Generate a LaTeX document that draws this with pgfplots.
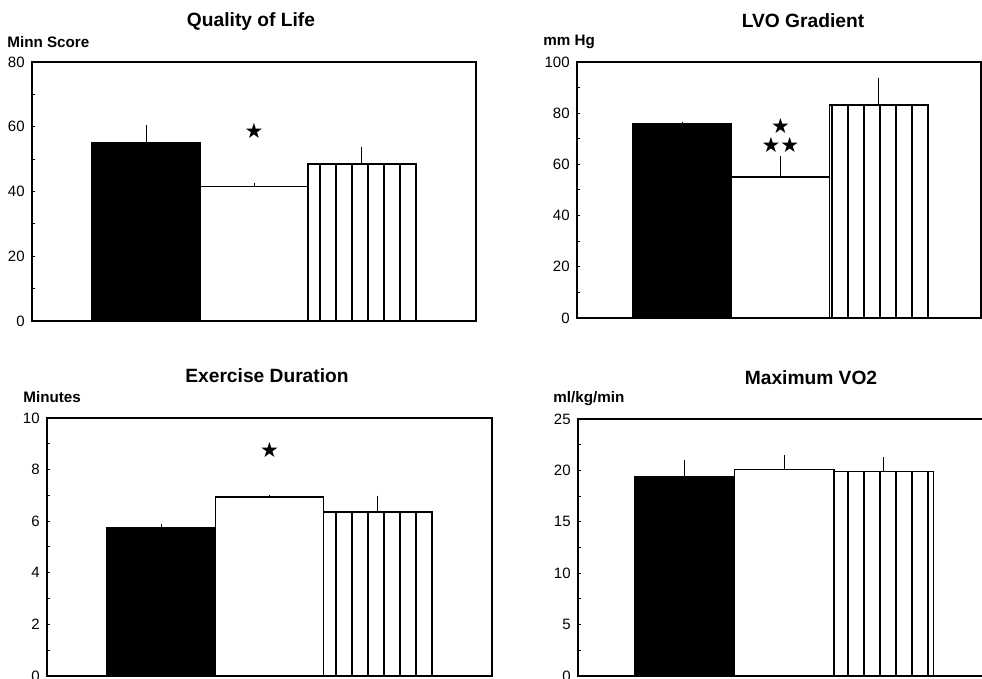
\documentclass[border=0pt]{standalone}
\usepackage{pgfplots}
\pgfplotsset{compat=1.18}
\usetikzlibrary{patterns.meta}
\usepackage{fontspec}
\setmainfont{Liberation Sans}
\newfontfamily\starfont{DejaVu Sans}

\pgfplotsset{
  panel/.style={
    scale only axis,
    anchor=south west,
    axis line style={line width=0.75pt},
    ymin=0,
    xtick=\empty,
    ytick pos=left,
    tick align=inside,
    minor y tick num=1,
    major tick length=1.5pt, minor tick length=1.5pt,
    tick style={line width=0.5pt, black},
    /pgf/number format/assume math mode=true,
    yticklabel style={font=\fontsize{7.5}{9}\selectfont, inner sep=0pt, xshift=-3.5pt},
    title style={at={(0,1)}, anchor=center, font=\bfseries\fontsize{9.6}{11}\selectfont},
    every axis y label/.style={at={(0,1)}, anchor=west, inner sep=0pt, font=\bfseries\fontsize{7.6}{9}\selectfont},
    clip=false,
  },
  errs/.style={error bars/y dir=plus, error bars/y explicit, error bars/error mark=none,
    error bars/error bar style={line width=0.5pt, black}},
  blackbar/.style={ybar, bar width=1, bar shift=0pt, fill=black, draw=black, line width=0.7pt, errs},
  whitebar/.style={ybar, bar width=1, bar shift=0pt, fill=white, draw=black, line width=0.7pt, errs},
  hatchbar/.style={ybar, bar width=1, bar shift=0pt, draw=black, line width=0.7pt,
    pattern={Lines[angle=90, distance=8pt, line width=0.6pt]}, pattern color=black, errs},
  stars/.style={only marks, mark=text, text mark={\starfont\fontsize{10.5}{11}\selectfont #1}},
}

\begin{document}
\begin{tikzpicture}
\path[use as bounding box] (0,0) rectangle (491pt,-339.5pt);

% Quality of Life
\begin{axis}[panel, at={(16pt,-160.5pt)}, width=222pt, height=129.5pt,
  xmin=-0.056, xmax=4.056, ymax=80, ytick={0,20,40,60,80},
  title={Quality of Life}, title style={xshift=109.5pt, yshift=14pt},
  ylabel={Minn Score}, ylabel style={xshift=-12.5pt, yshift=9.75pt}]
\addplot[blackbar] coordinates {(1,55) +- (0,5.5)};
\addplot[whitebar] coordinates {(2,41.5) +- (0,1.2)};
\addplot[hatchbar] coordinates {(3,48.5) +- (0,5.3)};
\addplot[stars={★}] coordinates {(2,58.8)};
\end{axis}

% LVO Gradient
\begin{axis}[panel, at={(288.5pt,-159pt)}, width=202pt, height=128pt,
  xmin=-0.07, xmax=4.04, ymax=100, ytick={0,20,40,60,80,100},
  title={LVO Gradient}, title style={xshift=113pt, yshift=14.75pt},
  ylabel={mm Hg}, ylabel style={xshift=-17pt, yshift=10pt}]
\addplot[blackbar] coordinates {(1,75.8) +- (0,0.7)};
\addplot[whitebar] coordinates {(2,55.1) +- (0,8.2)};
\addplot[hatchbar] coordinates {(3,83.2) +- (0,10.6)};
\addplot[stars={★}] coordinates {(2,75)};
\addplot[stars={★★}] coordinates {(2,67.5)};
\end{axis}

% Exercise Duration
\begin{axis}[panel, at={(23.5pt,-338pt)}, width=222.5pt, height=129pt,
  xmin=-0.054, xmax=4.054, ymax=10, ytick={0,2,4,6,8,10},
  title={Exercise Duration}, title style={xshift=110pt, yshift=15pt},
  ylabel={Minutes}, ylabel style={xshift=-12pt, yshift=10.5pt}]
\addplot[blackbar] coordinates {(1,5.74) +- (0,0.15)};
\addplot[whitebar] coordinates {(2,6.94) +- (0,0.06)};
\addplot[hatchbar] coordinates {(3,6.36) +- (0,0.62)};
\addplot[stars={★}] coordinates {(2,8.76)};
\end{axis}

% Maximum VO2
\begin{axis}[panel, at={(289pt,-338pt)}, width=205pt, height=128.5pt,
  xmin=-0.074, xmax=4.05, ymax=25, ytick={0,5,10,15,20,25},
  title={Maximum VO2}, title style={xshift=116.5pt, yshift=14.75pt},
  ylabel={ml/kg/min}, ylabel style={xshift=-12.5pt, yshift=10pt}]
\addplot[blackbar] coordinates {(1,19.4) +- (0,1.6)};
\addplot[whitebar] coordinates {(2,20.1) +- (0,1.4)};
\addplot[hatchbar] coordinates {(3,19.9) +- (0,1.4)};
\end{axis}
\end{tikzpicture}
\end{document}
